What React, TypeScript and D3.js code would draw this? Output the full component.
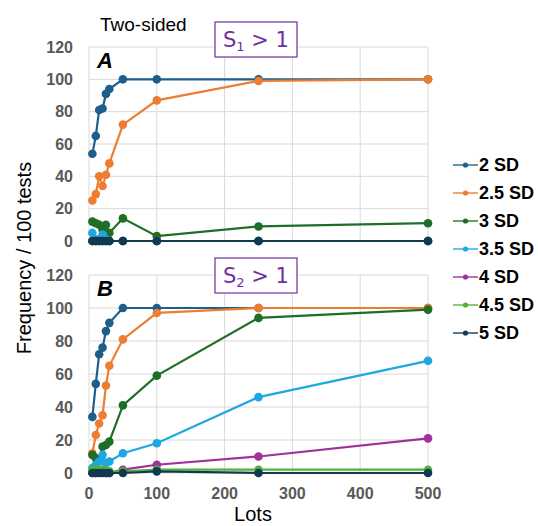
import * as d3 from "d3";

const lots = [5, 10, 15, 20, 25, 30, 50, 100, 250, 500];
const seriesNames = ["2 SD", "2.5 SD", "3 SD", "3.5 SD", "4 SD", "4.5 SD", "5 SD"];
const colors = ["#1d5f8a", "#ed7d31", "#1f6e27", "#1ea7e1", "#a0309a", "#52b13a", "#0f3a52"];

// panel A (S1 > 1)
const a2 = [54, 65, 81, 82, 91, 94, 100, 100, 100, 100];
const a25 = [25, 29, 40, 34, 41, 48, 72, 87, 99, 100];
const a3 = [12, 11, 10, 7, 10, 5, 14, 3, 9, 11];
const a35 = [5, 1, 1, 4, 1, 0, 0, 0, 0, 0];
const a4 = [0, 0, 0, 0, 0, 0, 0, 0, 0, 0];
const a45 = [0, 0, 0, 0, 0, 0, 0, 0, 0, 0];
const a5 = [0, 0, 0, 0, 0, 0, 0, 0, 0, 0];

// panel B (S2 > 1)
const b2 = [34, 54, 72, 76, 86, 91, 100, 100, 100, 100];
const b25 = [12, 23, 30, 35, 53, 65, 81, 97, 100, 100];
const b3 = [11, 9, 8, 16, 17, 19, 41, 59, 94, 99];
const b35 = [3, 5, 7, 11, 6, 7, 12, 18, 46, 68];
const b4 = [0, 0, 1, 1, 0, 0, 2, 5, 10, 21];
const b45 = [2, 2, 2, 2, 1, 1, 1, 2, 2, 2];
const b5 = [0, 0, 0, 0, 0, 0, 0, 1, 0, 0];

const yTicks = [0, 20, 40, 60, 80, 100, 120];
const xTicks = [0, 100, 200, 300, 400, 500];

const width = 538;
const height = 526;
const left = 89;
const right = 428;
const grid = "#d9d9d9";
const tickColor = "#595959";
const purple = "#7030a0";
const font = "Arial, Liberation Sans, sans-serif";

const x = d3.scaleLinear().domain([0, 500]).range([left, right]);

const Panel = ({ series, top, bottom, letter, sub, boxTop, showX }) => {
  const y = d3.scaleLinear().domain([0, 120]).range([bottom, top]);
  const line = d3
    .line<number>()
    .x((_, i) => x(lots[i]))
    .y((d) => y(d));
  return (
    <g>
      {yTicks.map((t) => (
        <g key={"y" + t}>
          <line x1={left} x2={right} y1={y(t)} y2={y(t)} stroke={grid} strokeWidth={1} />
          <text
            x={left - 16}
            y={y(t)}
            dy="0.35em"
            textAnchor="end"
            fontFamily={font}
            fontWeight="bold"
            fontSize={16}
            fill={tickColor}
          >
            {t}
          </text>
        </g>
      ))}
      {xTicks.map((t) => (
        <line key={"x" + t} x1={x(t)} x2={x(t)} y1={top} y2={bottom} stroke={grid} strokeWidth={1} />
      ))}
      {showX &&
        xTicks.map((t) => (
          <text
            key={"xl" + t}
            x={x(t)}
            y={bottom + 26}
            textAnchor="middle"
            fontFamily={font}
            fontWeight="bold"
            fontSize={16}
            fill={tickColor}
          >
            {t}
          </text>
        ))}
      {series.map((s, k) => (
        <g key={k}>
          <path d={line(s) || ""} fill="none" stroke={colors[k]} strokeWidth={2.2} />
          {s.map((v, i) => (
            <circle key={i} cx={x(lots[i])} cy={y(v)} r={4.3} fill={colors[k]} />
          ))}
        </g>
      ))}
      <text x={97} y={top + 21} fontFamily={font} fontWeight="bold" fontStyle="italic" fontSize={22} fill="#000">
        {letter}
      </text>
      <rect x={215} y={boxTop} width={82} height={35} fill="#fff" stroke={purple} strokeWidth={1.2} />
      <text x={256} y={boxTop + 25} textAnchor="middle" fontFamily="DejaVu Sans, sans-serif" fontSize={21} fill={purple}>
        S
        <tspan fontSize={13} dy={4}>
          {sub}
        </tspan>
        <tspan dy={-4}> {">"} 1</tspan>
      </text>
    </g>
  );
};

export default function App() {
  const legendY = d3.scaleLinear().domain([0, 6]).range([165, 333]);
  return (
    <svg width={width} height={height} style={{ position: "absolute", left: 0, top: 0 }}>
      <rect width={width} height={height} fill="#fff" />
      <Panel series={[a2, a25, a3, a35, a4, a45, a5]} top={47} bottom={241} letter="A" sub="1" boxTop={22} showX={false} />
      <Panel series={[b2, b25, b3, b35, b4, b45, b5]} top={275} bottom={473} letter="B" sub="2" boxTop={258} showX={true} />
      <text x={100} y={31} fontFamily={font} fontSize={19} fill="#000">
        Two-sided
      </text>
      <text transform="translate(31,258) rotate(-90)" textAnchor="middle" fontFamily={font} fontSize={20} fill="#000">
        Frequency / 100 tests
      </text>
      <text x={253} y={521} textAnchor="middle" fontFamily={font} fontSize={20} fill="#000">
        Lots
      </text>
      {seriesNames.map((n, k) => (
        <g key={n}>
          <line x1={453} x2={478} y1={legendY(k)} y2={legendY(k)} stroke={colors[k]} strokeWidth={1.6} opacity={0.85} />
          <circle cx={465.5} cy={legendY(k)} r={2.6} fill={colors[k]} />
          <text x={479} y={legendY(k)} dy="0.36em" fontFamily={font} fontWeight="bold" fontSize={18} fill="#000">
            {n}
          </text>
        </g>
      ))}
    </svg>
  );
}
